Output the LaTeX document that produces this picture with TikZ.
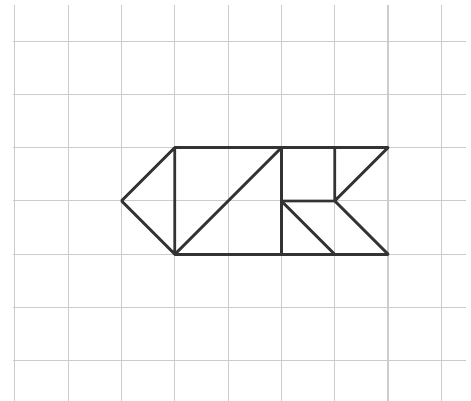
\documentclass[tikz,border=0pt]{standalone}
\begin{document}
\begin{tikzpicture}[x=1cm,y=1cm,line cap=round,line join=round,
  gridline/.style={gray!40,line width=.55pt},
  piece/.style={black!80,line width=1.5pt}]
  \useasboundingbox (-.28,-.735) rectangle (8.557,6.77);
  \foreach \i in {0,...,8}
    \draw[gridline,line cap=butt] (\i,-.75)--(\i,6.68);
  \foreach \j in {0,...,6}
    \draw[gridline,line cap=butt] (-.04,\j)--(8.46,\j);
  \draw[piece] (3,4)--(2,3)--(3,2)--cycle;
  \draw[piece] (3,4)--(7,4);
  \draw[piece] (3,2)--(7,2);
  \draw[piece] (3,2)--(5,4)--(5,2);
  \draw[piece] (6,4)--(6,3)--(7,4);
  \draw[piece] (5,3)--(6,3)--(7,2);
  \draw[piece] (5,3)--(6,2);
\end{tikzpicture}
\end{document}
